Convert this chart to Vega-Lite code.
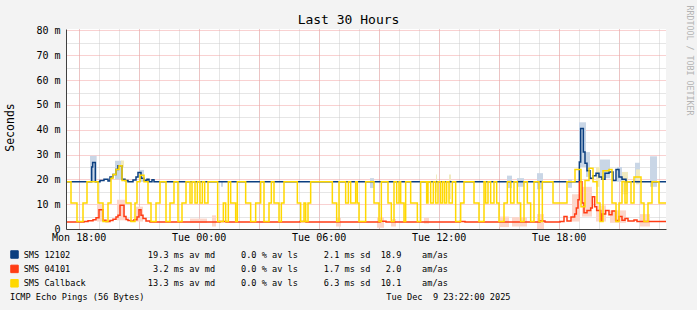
{
"$schema": "https://vega.github.io/schema/vega-lite/v6.json",
"width": 600, "height": 200,
"autosize": {"type": "none"},
"padding": {"left": 66, "top": 29, "right": 31, "bottom": 81},
"background": "#f3f3f3",
"config": {
  "view": {"fill": "#ffffff", "stroke": null},
  "axis": {"labelFont": "DejaVu Sans Mono", "labelFontSize": 10, "labelColor": "#000000", "titleFont": "DejaVu Sans Mono", "titleFontWeight": "normal", "titleColor": "#000000", "ticks": false}
},
"datasets": {
"blue": [
{"t":"2025-12-08T17:22","v":19},{"t":"2025-12-08T18:39","v":25},{"t":"2025-12-08T18:42","v":26.8},{"t":"2025-12-08T18:50","v":19},
{"t":"2025-12-08T19:04","v":19.5},{"t":"2025-12-08T19:16","v":20},{"t":"2025-12-08T19:28","v":19.3},{"t":"2025-12-08T19:34","v":21},
{"t":"2025-12-08T19:43","v":22},{"t":"2025-12-08T19:52","v":24},{"t":"2025-12-08T19:58","v":25.5},{"t":"2025-12-08T20:10","v":20},
{"t":"2025-12-08T20:19","v":19.5},{"t":"2025-12-08T20:28","v":19},{"t":"2025-12-08T20:43","v":19.7},{"t":"2025-12-08T20:52","v":21},
{"t":"2025-12-08T20:58","v":22.8},{"t":"2025-12-08T21:07","v":20.5},{"t":"2025-12-08T21:16","v":19.6},{"t":"2025-12-08T21:25","v":20},
{"t":"2025-12-08T21:31","v":19},{"t":"2025-12-08T21:40","v":19.8},{"t":"2025-12-08T21:46","v":19},
{"t":"2025-12-09T19:02","v":27},{"t":"2025-12-09T19:06","v":40.5},{"t":"2025-12-09T19:14","v":31},{"t":"2025-12-09T19:19","v":26.5},
{"t":"2025-12-09T19:25","v":23.5},{"t":"2025-12-09T19:34","v":20.5},{"t":"2025-12-09T19:43","v":21.5},{"t":"2025-12-09T19:52","v":22.5},
{"t":"2025-12-09T20:01","v":21},{"t":"2025-12-09T20:10","v":20},{"t":"2025-12-09T20:19","v":22.5},{"t":"2025-12-09T20:31","v":23},
{"t":"2025-12-09T20:43","v":19.5},{"t":"2025-12-09T20:52","v":24},{"t":"2025-12-09T21:01","v":21},{"t":"2025-12-09T21:10","v":20},
{"t":"2025-12-09T21:22","v":19},{"t":"2025-12-09T23:22","v":19}
],
"red": [
{"t":"2025-12-08T17:22","v":2.8},{"t":"2025-12-08T18:16","v":3},{"t":"2025-12-08T18:28","v":3.3},{"t":"2025-12-08T18:43","v":3.7},
{"t":"2025-12-08T18:52","v":4.5},{"t":"2025-12-08T19:01","v":7.8},{"t":"2025-12-08T19:13","v":3.5},{"t":"2025-12-08T19:22","v":3},
{"t":"2025-12-08T19:34","v":3.4},{"t":"2025-12-08T19:43","v":3.9},{"t":"2025-12-08T19:52","v":4.8},{"t":"2025-12-08T19:58","v":5.5},
{"t":"2025-12-08T20:04","v":9.6},{"t":"2025-12-08T20:16","v":5},{"t":"2025-12-08T20:22","v":3.8},{"t":"2025-12-08T20:28","v":3.4},
{"t":"2025-12-08T20:37","v":3.2},{"t":"2025-12-08T20:46","v":3.7},{"t":"2025-12-08T20:55","v":4.8},{"t":"2025-12-08T21:01","v":7.8},
{"t":"2025-12-08T21:07","v":5.5},{"t":"2025-12-08T21:13","v":4.2},{"t":"2025-12-08T21:22","v":3.2},{"t":"2025-12-08T21:34","v":2.8},
{"t":"2025-12-09T01:04","v":3},{"t":"2025-12-09T01:22","v":2.8},{"t":"2025-12-09T05:04","v":3},{"t":"2025-12-09T05:22","v":2.8},
{"t":"2025-12-09T09:04","v":3.1},{"t":"2025-12-09T09:22","v":2.8},{"t":"2025-12-09T13:04","v":3},{"t":"2025-12-09T13:19","v":2.8},
{"t":"2025-12-09T17:04","v":3.2},{"t":"2025-12-09T17:19","v":2.8},{"t":"2025-12-09T18:04","v":3},{"t":"2025-12-09T18:16","v":5},
{"t":"2025-12-09T18:25","v":3.2},{"t":"2025-12-09T18:37","v":4.8},{"t":"2025-12-09T18:48","v":6},{"t":"2025-12-09T18:53","v":8.5},
{"t":"2025-12-09T18:58","v":11.8},{"t":"2025-12-09T19:02","v":19},{"t":"2025-12-09T19:10","v":10.5},{"t":"2025-12-09T19:16","v":6.5},
{"t":"2025-12-09T19:25","v":7.5},{"t":"2025-12-09T19:36","v":8.5},{"t":"2025-12-09T19:41","v":13},{"t":"2025-12-09T19:48","v":9},
{"t":"2025-12-09T19:54","v":7.5},{"t":"2025-12-09T20:06","v":3.2},{"t":"2025-12-09T20:11","v":6},{"t":"2025-12-09T20:21","v":7.5},
{"t":"2025-12-09T20:31","v":5.7},{"t":"2025-12-09T20:40","v":7.3},{"t":"2025-12-09T20:51","v":3.4},{"t":"2025-12-09T21:01","v":5},
{"t":"2025-12-09T21:10","v":3.5},{"t":"2025-12-09T21:19","v":4.2},{"t":"2025-12-09T21:28","v":3.2},{"t":"2025-12-09T21:46","v":3.6},
{"t":"2025-12-09T21:55","v":3},{"t":"2025-12-09T23:22","v":3}
],
"yellow": [
{"t":"2025-12-08T17:22","v":19},{"t":"2025-12-08T17:37","v":10.5},{"t":"2025-12-08T17:55","v":3},{"t":"2025-12-08T18:13","v":10.5},
{"t":"2025-12-08T18:25","v":19},{"t":"2025-12-08T18:58","v":10.5},{"t":"2025-12-08T19:13","v":3},{"t":"2025-12-08T19:28","v":10.5},
{"t":"2025-12-08T19:37","v":20.5},{"t":"2025-12-08T19:43","v":22},{"t":"2025-12-08T19:52","v":24},{"t":"2025-12-08T20:01","v":25.5},
{"t":"2025-12-08T20:10","v":19.5},{"t":"2025-12-08T20:22","v":10.5},{"t":"2025-12-08T20:37","v":3},{"t":"2025-12-08T20:49","v":10.5},
{"t":"2025-12-08T20:55","v":19},{"t":"2025-12-08T21:04","v":21.7},{"t":"2025-12-08T21:16","v":19},{"t":"2025-12-08T21:28","v":10.5},
{"t":"2025-12-08T21:37","v":3},{"t":"2025-12-08T21:52","v":10.5},{"t":"2025-12-08T22:04","v":19},{"t":"2025-12-08T22:22","v":3},
{"t":"2025-12-08T22:34","v":10.5},{"t":"2025-12-08T22:46","v":19},{"t":"2025-12-08T22:58","v":3},{"t":"2025-12-08T23:10","v":10.5},
{"t":"2025-12-08T23:22","v":19},{"t":"2025-12-08T23:34","v":10.5},{"t":"2025-12-08T23:40","v":19},{"t":"2025-12-08T23:49","v":10.5},
{"t":"2025-12-08T23:56","v":19},{"t":"2025-12-09T00:04","v":10.5},{"t":"2025-12-09T00:11","v":19},{"t":"2025-12-09T00:18","v":10.5},
{"t":"2025-12-09T00:28","v":19},{"t":"2025-12-09T00:57","v":3},{"t":"2025-12-09T01:14","v":10.5},{"t":"2025-12-09T01:21","v":3},
{"t":"2025-12-09T01:29","v":19},{"t":"2025-12-09T01:36","v":10.5},{"t":"2025-12-09T01:51","v":3},{"t":"2025-12-09T01:56","v":19},
{"t":"2025-12-09T02:21","v":10.5},{"t":"2025-12-09T02:36","v":3},{"t":"2025-12-09T02:51","v":10.5},{"t":"2025-12-09T03:06","v":19},
{"t":"2025-12-09T03:16","v":3},{"t":"2025-12-09T03:31","v":10.5},{"t":"2025-12-09T03:38","v":19},{"t":"2025-12-09T03:46","v":10.5},
{"t":"2025-12-09T04:01","v":3},{"t":"2025-12-09T04:08","v":10.5},{"t":"2025-12-09T04:16","v":19},{"t":"2025-12-09T04:56","v":10.5},
{"t":"2025-12-09T05:06","v":3},{"t":"2025-12-09T05:16","v":10.5},{"t":"2025-12-09T05:21","v":3},{"t":"2025-12-09T05:28","v":10.5},
{"t":"2025-12-09T05:36","v":19},{"t":"2025-12-09T06:41","v":10.5},{"t":"2025-12-09T06:54","v":3},{"t":"2025-12-09T07:01","v":19},
{"t":"2025-12-09T07:21","v":10.5},{"t":"2025-12-09T07:29","v":19},{"t":"2025-12-09T07:36","v":10.5},{"t":"2025-12-09T07:51","v":19},
{"t":"2025-12-09T07:56","v":10.5},{"t":"2025-12-09T08:01","v":3},{"t":"2025-12-09T08:21","v":19},{"t":"2025-12-09T08:46","v":10.5},
{"t":"2025-12-09T09:01","v":3},{"t":"2025-12-09T09:08","v":19},{"t":"2025-12-09T09:28","v":10.5},{"t":"2025-12-09T09:38","v":3},
{"t":"2025-12-09T09:46","v":19},{"t":"2025-12-09T09:54","v":10.5},{"t":"2025-12-09T10:01","v":19},{"t":"2025-12-09T10:06","v":10.5},
{"t":"2025-12-09T10:16","v":3},{"t":"2025-12-09T10:21","v":19},{"t":"2025-12-09T10:36","v":10.5},{"t":"2025-12-09T10:56","v":3},
{"t":"2025-12-09T11:06","v":19},{"t":"2025-12-09T11:24","v":10.5},{"t":"2025-12-09T11:28","v":19},{"t":"2025-12-09T11:36","v":10.5},
{"t":"2025-12-09T11:44","v":19},{"t":"2025-12-09T11:51","v":10.5},{"t":"2025-12-09T11:58","v":19},{"t":"2025-12-09T12:06","v":10.5},
{"t":"2025-12-09T12:12","v":19},{"t":"2025-12-09T12:18","v":10.5},{"t":"2025-12-09T12:24","v":19},{"t":"2025-12-09T12:31","v":10.5},
{"t":"2025-12-09T12:41","v":19},{"t":"2025-12-09T12:51","v":3},{"t":"2025-12-09T13:06","v":10.5},{"t":"2025-12-09T13:16","v":19},
{"t":"2025-12-09T13:46","v":10.5},{"t":"2025-12-09T14:01","v":3},{"t":"2025-12-09T14:16","v":19},{"t":"2025-12-09T14:21","v":10.5},
{"t":"2025-12-09T14:28","v":19},{"t":"2025-12-09T14:36","v":10.5},{"t":"2025-12-09T14:46","v":19},{"t":"2025-12-09T14:54","v":10.5},
{"t":"2025-12-09T15:01","v":3},{"t":"2025-12-09T15:16","v":10.5},{"t":"2025-12-09T15:26","v":19},{"t":"2025-12-09T15:36","v":10.5},
{"t":"2025-12-09T15:46","v":19},{"t":"2025-12-09T15:56","v":10.5},{"t":"2025-12-09T16:06","v":3},{"t":"2025-12-09T16:16","v":19},
{"t":"2025-12-09T16:26","v":10.5},{"t":"2025-12-09T16:36","v":3},{"t":"2025-12-09T16:46","v":19},{"t":"2025-12-09T17:01","v":3},
{"t":"2025-12-09T17:11","v":19},{"t":"2025-12-09T17:43","v":10.5},{"t":"2025-12-09T18:25","v":19},{"t":"2025-12-09T18:49","v":24},
{"t":"2025-12-09T19:07","v":9},{"t":"2025-12-09T19:19","v":19.5},{"t":"2025-12-09T19:31","v":24.5},{"t":"2025-12-09T19:43","v":19},
{"t":"2025-12-09T19:55","v":10.5},{"t":"2025-12-09T20:04","v":3},{"t":"2025-12-09T20:13","v":23.5},{"t":"2025-12-09T20:31","v":24},
{"t":"2025-12-09T20:40","v":10.5},{"t":"2025-12-09T20:52","v":3},{"t":"2025-12-09T21:01","v":10.5},{"t":"2025-12-09T21:10","v":19},
{"t":"2025-12-09T21:19","v":10.5},{"t":"2025-12-09T21:25","v":19},{"t":"2025-12-09T21:37","v":10.5},{"t":"2025-12-09T21:46","v":21},
{"t":"2025-12-09T22:07","v":10.5},{"t":"2025-12-09T22:16","v":3},{"t":"2025-12-09T22:28","v":10.5},{"t":"2025-12-09T22:40","v":19},
{"t":"2025-12-09T23:01","v":10.5},{"t":"2025-12-09T23:22","v":10.5}
],
"smoke": [
{"s":"B","t":"2025-12-08T18:34","t2":"2025-12-08T18:54","lo":19,"hi":29.5},
{"s":"B","t":"2025-12-08T19:49","t2":"2025-12-08T20:10","lo":20,"hi":27.5},
{"s":"B","t":"2025-12-08T21:02","t2":"2025-12-08T21:16","lo":19,"hi":23.8},
{"s":"B","t":"2025-12-09T01:07","t2":"2025-12-09T01:13","lo":17,"hi":19},
{"s":"B","t":"2025-12-09T08:34","t2":"2025-12-09T08:46","lo":16.5,"hi":20.5},
{"s":"B","t":"2025-12-09T15:25","t2":"2025-12-09T15:40","lo":16.5,"hi":21.5},
{"s":"B","t":"2025-12-09T15:55","t2":"2025-12-09T16:16","lo":17,"hi":20.5},
{"s":"B","t":"2025-12-09T16:55","t2":"2025-12-09T17:13","lo":16,"hi":22.5},
{"s":"B","t":"2025-12-09T18:28","t2":"2025-12-09T18:40","lo":16.6,"hi":20},
{"s":"B","t":"2025-12-09T19:01","t2":"2025-12-09T19:22","lo":25,"hi":43},
{"s":"B","t":"2025-12-09T19:22","t2":"2025-12-09T19:34","lo":21,"hi":31},
{"s":"B","t":"2025-12-09T20:04","t2":"2025-12-09T20:34","lo":20.5,"hi":28},
{"s":"B","t":"2025-12-09T20:55","t2":"2025-12-09T21:10","lo":19,"hi":25},
{"s":"B","t":"2025-12-09T21:49","t2":"2025-12-09T22:04","lo":19.2,"hi":26.7},
{"s":"B","t":"2025-12-09T22:34","t2":"2025-12-09T22:55","lo":17,"hi":29.3},
{"s":"R","t":"2025-12-08T18:55","t2":"2025-12-08T19:16","lo":3,"hi":9.8},
{"s":"R","t":"2025-12-08T19:55","t2":"2025-12-08T20:19","lo":3.5,"hi":11.8},
{"s":"R","t":"2025-12-08T20:52","t2":"2025-12-08T21:13","lo":3,"hi":9},
{"s":"R","t":"2025-12-08T23:34","t2":"2025-12-09T00:25","lo":2.5,"hi":4.2},
{"s":"R","t":"2025-12-09T00:40","t2":"2025-12-09T00:52","lo":1,"hi":5.5},
{"s":"R","t":"2025-12-09T06:52","t2":"2025-12-09T07:07","lo":1,"hi":4.5},
{"s":"R","t":"2025-12-09T08:55","t2":"2025-12-09T09:16","lo":0.5,"hi":4.8},
{"s":"R","t":"2025-12-09T09:37","t2":"2025-12-09T09:52","lo":1,"hi":4},
{"s":"R","t":"2025-12-09T11:16","t2":"2025-12-09T11:31","lo":2.2,"hi":4.5},
{"s":"R","t":"2025-12-09T15:01","t2":"2025-12-09T15:31","lo":0.8,"hi":5},
{"s":"R","t":"2025-12-09T15:40","t2":"2025-12-09T16:25","lo":1,"hi":4.8},
{"s":"R","t":"2025-12-09T16:55","t2":"2025-12-09T17:16","lo":0,"hi":6},
{"s":"R","t":"2025-12-09T18:40","t2":"2025-12-09T19:04","lo":3,"hi":14},
{"s":"R","t":"2025-12-09T19:10","t2":"2025-12-09T19:40","lo":5,"hi":17},
{"s":"R","t":"2025-12-09T19:52","t2":"2025-12-09T20:22","lo":3,"hi":9.5},
{"s":"R","t":"2025-12-09T20:34","t2":"2025-12-09T21:22","lo":2.5,"hi":7.5},
{"s":"R","t":"2025-12-09T22:04","t2":"2025-12-09T22:34","lo":1,"hi":6},
{"s":"Y","t":"2025-12-08T20:07","t2":"2025-12-08T20:16","lo":25,"hi":27.6},
{"s":"Y","t":"2025-12-09T11:52","t2":"2025-12-09T11:55","lo":15,"hi":22},
{"s":"Y","t":"2025-12-09T12:31","t2":"2025-12-09T12:37","lo":12,"hi":22},
{"s":"Y","t":"2025-12-09T19:52","t2":"2025-12-09T20:04","lo":17,"hi":25},
{"s":"Y","t":"2025-12-09T21:10","t2":"2025-12-09T21:28","lo":14,"hi":23},
{"s":"Y","t":"2025-12-09T21:52","t2":"2025-12-09T22:04","lo":18,"hi":24}
]
},
"resolve": {"axis": {"x": "independent", "y": "independent"}},
"layer": [
{
  "data": {"name": "smoke"},
  "mark": {"type": "rect"},
  "encoding": {
    "x": {"field": "t", "type": "temporal",
      "scale": {"domain": ["2025-12-08T17:22", "2025-12-09T23:22"], "nice": false},
      "axis": {"orient": "bottom", "values": [
        {"year":2025,"month":12,"date":8,"hours":18},{"year":2025,"month":12,"date":8,"hours":19},{"year":2025,"month":12,"date":8,"hours":20},
        {"year":2025,"month":12,"date":8,"hours":21},{"year":2025,"month":12,"date":8,"hours":22},{"year":2025,"month":12,"date":8,"hours":23},
        {"year":2025,"month":12,"date":9,"hours":0},{"year":2025,"month":12,"date":9,"hours":1},{"year":2025,"month":12,"date":9,"hours":2},
        {"year":2025,"month":12,"date":9,"hours":3},{"year":2025,"month":12,"date":9,"hours":4},{"year":2025,"month":12,"date":9,"hours":5},
        {"year":2025,"month":12,"date":9,"hours":6},{"year":2025,"month":12,"date":9,"hours":7},{"year":2025,"month":12,"date":9,"hours":8},
        {"year":2025,"month":12,"date":9,"hours":9},{"year":2025,"month":12,"date":9,"hours":10},{"year":2025,"month":12,"date":9,"hours":11},
        {"year":2025,"month":12,"date":9,"hours":12},{"year":2025,"month":12,"date":9,"hours":13},{"year":2025,"month":12,"date":9,"hours":14},
        {"year":2025,"month":12,"date":9,"hours":15},{"year":2025,"month":12,"date":9,"hours":16},{"year":2025,"month":12,"date":9,"hours":17},
        {"year":2025,"month":12,"date":9,"hours":18},{"year":2025,"month":12,"date":9,"hours":19},{"year":2025,"month":12,"date":9,"hours":20},
        {"year":2025,"month":12,"date":9,"hours":21},{"year":2025,"month":12,"date":9,"hours":22},{"year":2025,"month":12,"date":9,"hours":23}],
        "grid": true, "gridColor": "#cccccc", "gridDash": [1, 1], "labels": false, "domain": false,
        "title": "Tue Dec\u00a0\u00a09 23:22:00 2025", "titleX": 444, "titleY": 67.7, "titleAlign": "right", "titleBaseline": "middle", "titleFontSize": 8.6}},
    "x2": {"field": "t2"},
    "y": {"field": "lo", "type": "quantitative",
      "scale": {"domain": [0, 80.6], "nice": false},
      "axis": {"orient": "left", "values": [5, 15, 25, 35, 45, 55, 65, 75], "grid": true, "gridColor": "#cccccc", "gridDash": [1, 1], "labels": false, "domain": false, "title": null}},
    "y2": {"field": "hi"},
    "fill": {"field": "s", "type": "nominal", "scale": {"domain": ["B", "R", "Y"], "range": ["#c9d6e6", "#fcd6ca", "#f1eabf"]}, "legend": null}
  }
},
{
  "data": {"name": "blue"},
  "mark": {"type": "line", "interpolate": "step-after", "strokeWidth": 1.5},
  "encoding": {
    "x": {"field": "t", "type": "temporal",
      "scale": {"domain": ["2025-12-08T17:22", "2025-12-09T23:22"], "nice": false},
      "axis": {"orient": "bottom", "zindex": 1, "values": [
        {"year":2025,"month":12,"date":8,"hours":18},{"year":2025,"month":12,"date":9,"hours":0},{"year":2025,"month":12,"date":9,"hours":6},
        {"year":2025,"month":12,"date":9,"hours":12},{"year":2025,"month":12,"date":9,"hours":18}],
        "grid": false, "format": "%a %H:%M", "labelPadding": 3, "labelFlush": false,
        "domain": true, "domainColor": "#404040", "title": null}},
    "y": {"field": "v", "type": "quantitative",
      "scale": {"domain": [0, 80.6], "nice": false},
      "axis": {"orient": "left", "values": [0, 10, 20, 30, 40, 50, 60, 70, 80], "grid": true, "gridColor": "#f2a3a3", "gridDash": [1, 1],
        "labelExpr": "datum.value == 0 ? '0\u00a0\u00a0' : datum.value + ' m'", "labelPadding": 6, "domain": false,
        "title": "Seconds", "titleX": -55.5, "titleY": 98, "titleAngle": 270, "titleAlign": "center", "titleBaseline": "middle", "titleFontSize": 11.5}},
    "color": {"datum": "SMS 12102", "type": "nominal",
      "scale": {"domain": ["SMS 12102", "SMS 04101", "SMS Callback"], "range": ["#0b3f80", "#ff3c14", "#ffd800"]},
      "legend": {"orient": "none", "legendX": -56, "legendY": 221, "padding": 0,
        "title": "ICMP Echo Pings (56 Bytes)", "titleOrient": "bottom", "titleAnchor": "start", "titlePadding": 4.2,
        "titleFont": "DejaVu Sans Mono", "titleFontSize": 8.6, "titleFontWeight": "normal", "titleColor": "#000000",
        "labelFont": "DejaVu Sans Mono", "labelFontSize": 8.6, "labelColor": "#000000", "labelOffset": 4.7, "labelLimit": 1000,
        "symbolType": "square", "symbolSize": 56, "symbolStrokeColor": "#222222", "symbolStrokeWidth": 1, "rowPadding": 1.4,
        "labelExpr": "datum.label == 'SMS 12102' ? 'SMS 12102\u00a0\u00a0\u00a0\u00a0\u00a0\u00a0\u00a0\u00a0\u00a0\u00a0\u00a0\u00a0\u00a0\u00a0\u00a019.3 ms av md\u00a0\u00a0\u00a0\u00a0\u00a00.0 % av ls\u00a0\u00a0\u00a0\u00a0\u00a02.1 ms sd\u00a0\u00a018.9\u00a0\u00a0\u00a0\u00a0am/as' : datum.label == 'SMS 04101' ? 'SMS 04101\u00a0\u00a0\u00a0\u00a0\u00a0\u00a0\u00a0\u00a0\u00a0\u00a0\u00a0\u00a0\u00a0\u00a0\u00a0\u00a03.2 ms av md\u00a0\u00a0\u00a0\u00a0\u00a00.0 % av ls\u00a0\u00a0\u00a0\u00a0\u00a01.7 ms sd\u00a0\u00a0\u00a02.0\u00a0\u00a0\u00a0\u00a0am/as' : 'SMS Callback\u00a0\u00a0\u00a0\u00a0\u00a0\u00a0\u00a0\u00a0\u00a0\u00a0\u00a0\u00a013.3 ms av md\u00a0\u00a0\u00a0\u00a0\u00a00.0 % av ls\u00a0\u00a0\u00a0\u00a0\u00a06.3 ms sd\u00a0\u00a010.1\u00a0\u00a0\u00a0\u00a0am/as'",
        "encode": {"symbols": {"update": {"fill": {"scale": "color", "field": "value"}, "fillOpacity": {"value": 1}}}}}}
  }
},
{
  "data": {"name": "red"},
  "mark": {"type": "line", "interpolate": "step-after", "strokeWidth": 1.5},
  "encoding": {
    "x": {"field": "t", "type": "temporal",
      "scale": {"domain": ["2025-12-08T17:22", "2025-12-09T23:22"], "nice": false},
      "axis": {"orient": "bottom", "values": [
        {"year":2025,"month":12,"date":8,"hours":18},{"year":2025,"month":12,"date":8,"hours":21},{"year":2025,"month":12,"date":9,"hours":0},
        {"year":2025,"month":12,"date":9,"hours":3},{"year":2025,"month":12,"date":9,"hours":6},{"year":2025,"month":12,"date":9,"hours":9},
        {"year":2025,"month":12,"date":9,"hours":12},{"year":2025,"month":12,"date":9,"hours":15},{"year":2025,"month":12,"date":9,"hours":18},
        {"year":2025,"month":12,"date":9,"hours":21}],
        "grid": true, "gridColor": "#f2a3a3", "gridDash": [1, 1], "labels": false, "domain": false, "title": null}},
    "y": {"field": "v", "type": "quantitative", "scale": {"domain": [0, 80.6], "nice": false},
      "axis": {"orient": "left", "zindex": 1, "values": [0], "grid": false, "labels": false, "domain": true, "domainColor": "#404040", "title": null}},
    "color": {"datum": "SMS 04101", "type": "nominal"}
  }
},
{
  "data": {"name": "yellow"},
  "mark": {"type": "line", "interpolate": "step-after", "strokeWidth": 1.5},
  "encoding": {
    "x": {"field": "t", "type": "temporal",
      "scale": {"domain": ["2025-12-08T17:22", "2025-12-09T23:22"], "nice": false},
      "axis": {"orient": "top", "values": [], "grid": false, "labels": false, "domain": false,
        "title": "Last 30 Hours", "titleX": 282, "titleY": -10, "titleAlign": "center", "titleBaseline": "middle", "titleFontSize": 13}},
    "y": {"field": "v", "type": "quantitative", "scale": {"domain": [0, 80.6], "nice": false},
      "axis": {"orient": "right", "values": [], "grid": false, "labels": false, "domain": false,
        "title": "RRDTOOL / TOBI OETIKER", "titleX": 22, "titleY": 31, "titleAngle": 90, "titleAlign": "center", "titleBaseline": "middle", "titleFontSize": 8.3, "titleColor": "#b4b4b4"}},
    "color": {"datum": "SMS Callback", "type": "nominal"}
  }
}
]
}
